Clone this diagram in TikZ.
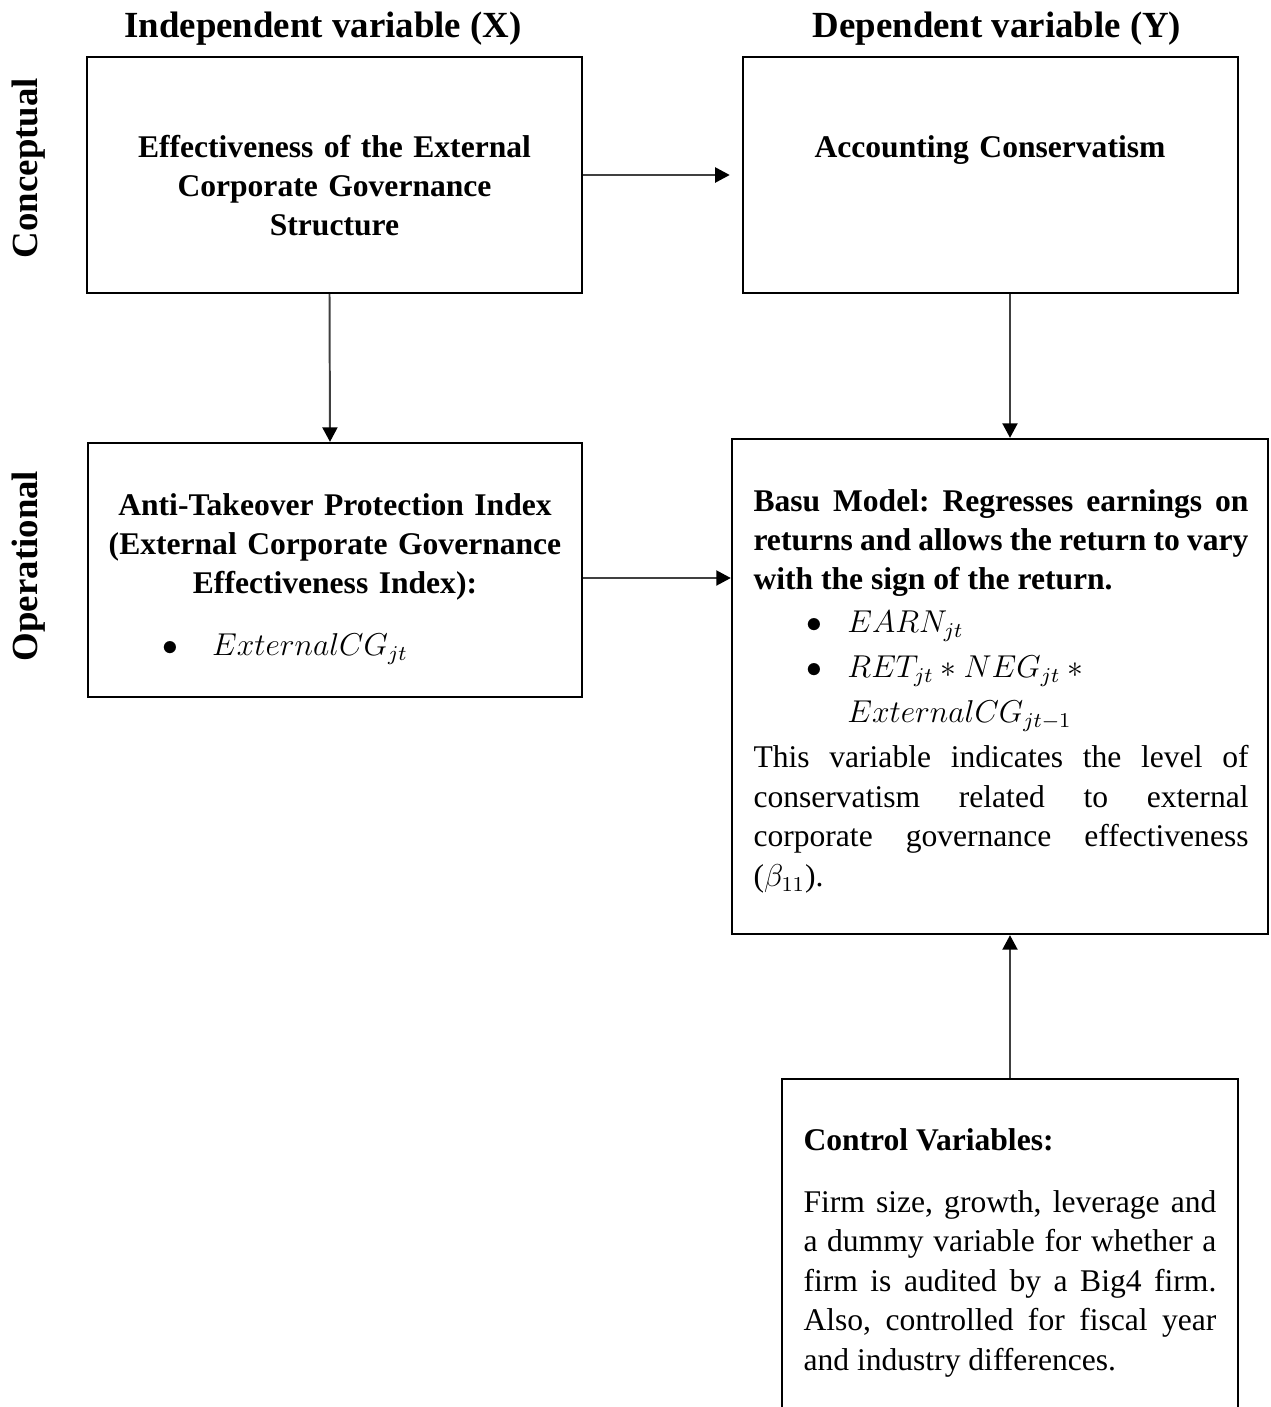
\documentclass[tikz,border=0pt]{standalone}
\usepackage{fontspec}
\setmainfont{Liberation Serif}
\usetikzlibrary{arrows.meta,positioning,calc}
\definecolor{trait}{HTML}{404040}
\newcommand{\puce}{$\bullet$}
\tikzset{
  cadre/.style={rectangle, draw=black, line width=0.9pt, inner sep=0pt},
  texte/.style={inner sep=0pt, text width=#1, font=\fontsize{12}{15}\selectfont\frenchspacing},
  titre/.style={inner sep=0pt, font=\fontsize{14}{16}\selectfont\bfseries},
  arr/.style={-{Triangle[length=5.5pt,width=5.7pt,color=black]}, line width=0.75pt, draw=trait},
}
\begin{document}
\begin{tikzpicture}[x=0.38pt, y=-0.38pt]
  \useasboundingbox (0,0) rectangle (1271,1407);
  \clip (0,0) rectangle (1271,1407);
  % en-tetes
  \node[titre, anchor=base] (tx) at (323,37) {Independent variable (X)};
  \node[titre, anchor=base] (ty) at (997,37) {Dependent variable (Y)};
  \node[titre, rotate=90, anchor=base] (lc) at (38,168) {Conceptual};
  \node[titre, rotate=90, anchor=base] (lo) at (38,566) {Operational};
  % cadres
  \node[cadre, minimum width=188.1pt, minimum height=89.7pt] (indep) at (334.5,175) {};
  \node[cadre, minimum width=188.1pt, minimum height=89.7pt] (dep) at (990.5,175) {};
  \node[cadre, minimum width=187.7pt, minimum height=96.5pt] (proxy) at (335,570) {};
  \node[cadre, minimum width=203.7pt, minimum height=188.1pt] (basu) at (1000,686.5) {};
  \node[cadre, minimum width=173.3pt, minimum height=137.2pt] (ctrl) at (1010,1259.5) {};
  % textes
  \node[texte=152pt, align=center, anchor=base] (indeptxt) at (334.5,157)
    {\bfseries Effectiveness of the External\\Corporate Governance\\Structure};
  \node[texte=180pt, align=center, anchor=base] (deptxt) at (990,157)
    {\bfseries Accounting Conservatism};
  \node[texte=178.6pt, align=center, anchor=base] (proxytxt) at (335,515)
    {\textbf{Anti-Takeover Protection Index\\(External Corporate Governance\\Effectiveness Index):}\\[8.4pt]
     \makebox[\linewidth][l]{\hspace*{23.9pt}\makebox[18.7pt][l]{\puce}$ExternalCG_{jt}$}};
  \node[texte=188.1pt, align=justify, anchor=base west] (basutxt) at (753,511)
    {\textbf{Basu Model: Regresses earnings on\linebreak returns and allows the return to vary\linebreak with the sign of the return.}\par
     \vspace{1.3pt}\hspace*{20.1pt}\makebox[15.6pt][l]{\puce}$EARN_{jt}$\par
     \vspace{2.1pt}\hspace*{20.1pt}\makebox[15.6pt][l]{\puce}$RET_{jt} * NEG_{jt} *{}$\par
     \vspace{2.1pt}\hspace*{35.7pt}$ExternalCG_{jt-1}$\par
     \vspace{2.1pt}This variable indicates the level of\linebreak conservatism related to external\linebreak corporate governance effectiveness\linebreak ($\beta_{11}$).};
  \node[texte=156.9pt, align=justify, anchor=base west] (ctrltxt) at (803,1150)
    {\textbf{Control Variables:}\par
     \vspace{8.6pt}Firm size, growth, leverage and\linebreak a dummy variable for whether a\linebreak firm is audited by a Big4 firm.\linebreak Also, controlled for fiscal year\linebreak and industry differences.};
  % liens
  \draw[arr, shorten >=4.6pt] (indep.east) -- (dep.west);
  \draw[arr] ($(indep.south)+(-5,0)$) -- ($(proxy.north)+(-5,0)$);
  \coordinate (cd) at ($(proxy.east)+(0,8)$);
  \draw[arr] (cd) -- (cd -| basu.west);
  \draw[arr] (dep.south -| ctrl.north) -- (basu.north -| ctrl.north);
  \draw[arr] (ctrl.north) -- (ctrl.north |- basu.south);
\end{tikzpicture}
\end{document}
